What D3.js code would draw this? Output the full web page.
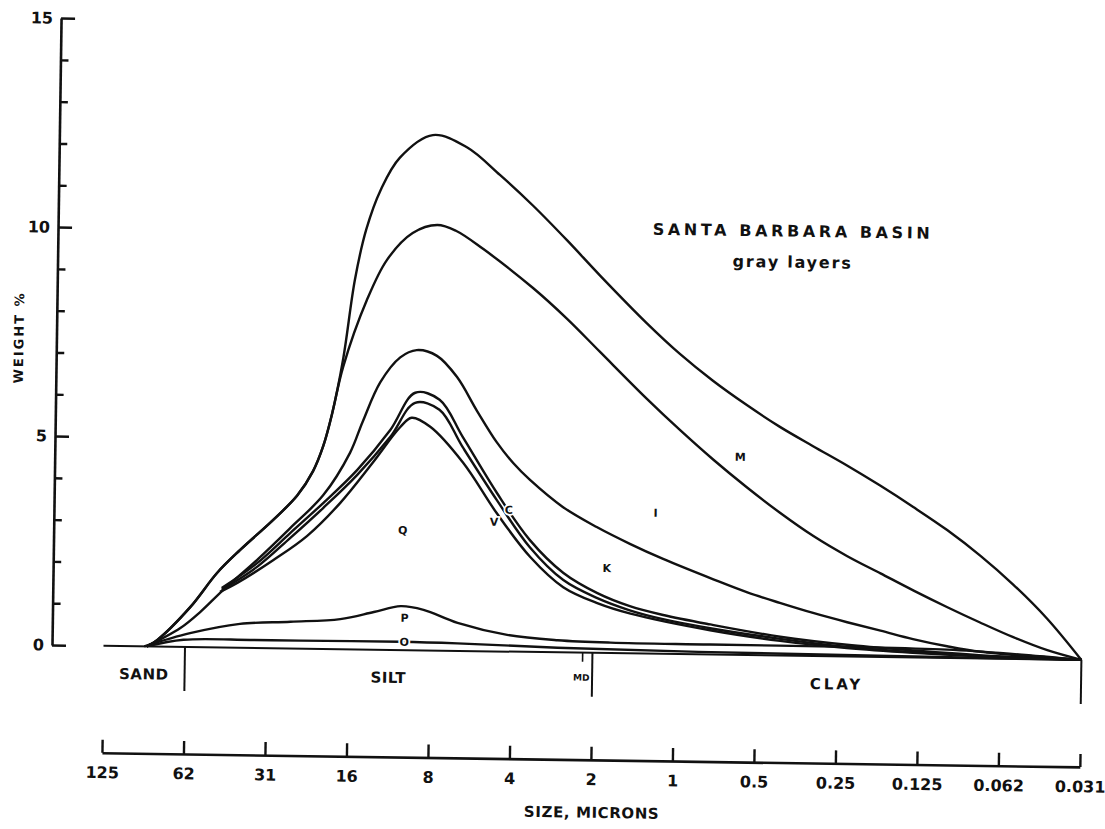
<!DOCTYPE html>
<html><head><meta charset="utf-8">
<script src="https://cdn.jsdelivr.net/npm/d3@7"></script>
<style>
body{margin:0;background:#fff;}
svg text{font-family:"DejaVu Sans",sans-serif;font-weight:bold;fill:#111;}
</style></head><body>
<svg id="chart" width="1105" height="829"></svg>
<script>
// ---- data (size in phi units: 3 = 125 µm ... 15 = 0.031 µm; weight in %) ----
const phiTicks = [3,4,5,6,7,8,9,10,11,12,13,14,15];
const sizeLabels = ["125","62","31","16","8","4","2","1","0.5","0.25","0.125","0.062","0.031"];
const weightTicks = [0,1,2,3,4,5,6,7,8,9,10,11,12,13,14,15];
const weightLabels = ["0","5","10","15"];

const curveM = [[3.53,0],[3.66,0.16],[4.06,0.96],[4.38,1.78],[4.66,2.34],[5.06,3.07],[5.35,3.66],[5.54,4.25],[5.66,4.85],[5.76,5.60],[5.89,6.95],[6.02,8.85],[6.15,10.05],[6.32,11.0],[6.55,11.78],[6.95,12.33],[7.37,12.05],[7.78,11.40],[8.19,10.68],[8.62,9.85],[9.03,9.02],[9.61,7.90],[10.02,7.18],[10.43,6.55],[10.85,5.98],[11.26,5.47],[11.67,5.02],[12.09,4.57],[12.50,4.10],[12.91,3.60],[13.33,3.06],[13.74,2.46],[14.15,1.78],[14.57,0.98],[15,0]];
const curveI = [[3.53,0],[3.66,0.16],[4.06,0.96],[4.38,1.78],[4.66,2.34],[5.06,3.07],[5.35,3.66],[5.54,4.25],[5.66,4.85],[5.76,5.60],[5.89,6.75],[6.17,8.36],[6.41,9.33],[6.72,9.98],[7.02,10.18],[7.25,10.05],[7.59,9.62],[8.21,8.70],[8.63,7.98],[9.04,7.20],[9.62,6.10],[10.04,5.35],[10.45,4.66],[10.86,4.02],[11.28,3.41],[11.69,2.87],[12.11,2.40],[12.52,2.00],[12.93,1.60],[13.34,1.22],[13.75,0.86],[14.16,0.52],[14.58,0.22],[15,0]];
const curveK = [[3.53,0],[3.94,0.45],[4.18,0.84],[4.46,1.38],[4.87,2.11],[5.27,2.88],[5.67,3.68],[5.99,4.70],[6.14,5.45],[6.35,6.40],[6.59,7.00],[6.79,7.18],[7.04,7.05],[7.29,6.55],[7.54,5.75],[7.79,5.00],[8.00,4.50],[8.20,4.12],[8.61,3.48],[9.03,3.01],[9.44,2.62],[9.85,2.27],[10.47,1.80],[10.89,1.50],[11.29,1.26],[11.70,1.03],[12.12,0.82],[12.53,0.63],[12.93,0.44],[13.35,0.28],[13.76,0.16],[14.58,0.05],[15,0]];
const curveC = [[4.44,1.42],[4.87,2.03],[5.27,2.76],[5.67,3.49],[6.08,4.29],[6.48,5.26],[6.78,6.16],[7.08,6.00],[7.37,5.12],[7.80,3.79],[8.21,2.68],[8.63,1.90],[9.05,1.43],[9.45,1.13],[9.86,0.93],[10.44,0.72],[11.30,0.45],[12.12,0.28],[12.93,0.17],[13.74,0.08],[15,0]];
const curveV = [[4.44,1.38],[4.87,1.94],[5.27,2.64],[5.67,3.37],[6.08,4.17],[6.48,5.09],[6.78,5.92],[7.08,5.76],[7.37,4.88],[7.80,3.62],[8.21,2.51],[8.63,1.73],[9.05,1.31],[9.45,1.03],[9.86,0.83],[10.44,0.63],[11.30,0.40],[12.12,0.23],[12.93,0.13],[13.74,0.06],[15,0]];
const curveQ = [[4.42,1.33],[4.63,1.55],[5.07,2.11],[5.48,2.70],[5.88,3.50],[6.27,4.47],[6.60,5.33],[6.74,5.56],[6.97,5.35],[7.38,4.50],[7.80,3.31],[8.22,2.27],[8.63,1.56],[9.05,1.19],[9.46,0.95],[10.44,0.58],[11.30,0.35],[12.12,0.20],[12.93,0.11],[13.74,0.05],[15,0]];
const curveP = [[3.50,0],[4.06,0.33],[4.67,0.57],[5.29,0.64],[5.90,0.72],[6.31,0.90],[6.64,1.05],[6.92,0.97],[7.34,0.67],[7.95,0.40],[8.57,0.29],[9.22,0.25],[10.44,0.24],[12.12,0.23],[13.35,0.20],[14.15,0.12],[15,0]];
const curveO = [[3.53,0],[3.98,0.17],[4.80,0.19],[5.41,0.19],[6.64,0.20],[7.34,0.18],[8.57,0.11],[10.3,0.06],[12.5,0.03],[15,0]];
const baseline = [[3,0],[15,0]];

const curveNames = ["M","I","K","C","V","Q","P","O"];
const labelPhi = [10.78, 9.75, 9.16, 7.95, 7.77, 6.65, 6.69, 6.69];
const labelWt  = [4.74, 3.37, 2.03, 3.39, 3.10, 2.87, 0.77, 0.20];

const zoneNames = ["SAND","SILT","CLAY"];
const zoneFrom = [3,4,9];
const zoneTo = [4,9,15];
const mdPhi = 8.88;

// ---- drawing ----
const svg = d3.select("#chart");
const g = svg.append("g").attr("transform","rotate(0.83,52,645)");

const x = d3.scaleLinear().domain([3,15]).range([103.5,1081.5]);
const y = d3.scaleLinear().domain([0,15]).range([645,18]);

const line = d3.line().x(d=>x(d[0])).y(d=>y(d[1])).curve(d3.curveCatmullRom.alpha(0.5));
const straight = d3.line().x(d=>x(d[0])).y(d=>y(d[1]));

// y axis
const yAxis = d3.axisLeft(y).tickValues(weightTicks).tickSizeInner(-14).tickSizeOuter(0).tickPadding(9)
  .tickFormat(d => weightLabels.includes(String(d)) ? String(d) : "");
const yg = g.append("g").attr("transform","translate(52,0)").call(yAxis);
yg.select(".domain").attr("stroke","#111").attr("stroke-width",2.6);
yg.selectAll(".tick line").attr("stroke","#111").attr("stroke-width",2.4)
  .attr("x2", d => d % 5 === 0 ? 14 : 8);
yg.selectAll(".tick text").attr("font-size",16).attr("fill","#111").attr("x",-8);

// x axis
const xAxis = d3.axisBottom(x).tickValues(phiTicks).tickSizeInner(-13).tickSizeOuter(0).tickPadding(14)
  .tickFormat((d,i)=>sizeLabels[i]);
const xg = g.append("g").attr("transform","translate(0,752)").call(xAxis);
xg.select(".domain").attr("stroke","#111").attr("stroke-width",2.6);
xg.selectAll(".tick line").attr("stroke","#111").attr("stroke-width",2.4);
xg.selectAll(".tick text").attr("font-size",16).attr("fill","#111");

g.append("text").attr("x",594).attr("y",810).attr("text-anchor","middle")
  .attr("font-size",15).attr("letter-spacing",0.6).text("SIZE, MICRONS");

g.append("text").attr("transform","translate(19,338) rotate(-90)").attr("text-anchor","middle")
  .attr("font-size",13).attr("letter-spacing",2).text("WEIGHT %");

// baseline and zone dividers
g.append("path").datum(baseline).attr("d",straight).attr("fill","none").attr("stroke","#111").attr("stroke-width",2);
g.selectAll(".divider").data(zoneTo).enter().append("line").attr("class","divider")
  .attr("x1",d=>x(d)).attr("x2",d=>x(d)).attr("y1",y(0)).attr("y2",y(0)+44)
  .attr("stroke","#111").attr("stroke-width",2);
g.append("line").attr("x1",x(mdPhi)).attr("x2",x(mdPhi)).attr("y1",y(0)).attr("y2",y(0)+9)
  .attr("stroke","#111").attr("stroke-width",1.6);
g.append("text").attr("x",x(mdPhi)-1).attr("y",y(0)+28).attr("text-anchor","middle")
  .attr("font-size",9).text("MD");
g.selectAll(".zone").data(zoneNames).enter().append("text").attr("class","zone")
  .attr("x",(d,i)=>x((zoneFrom[i]+zoneTo[i])/2)).attr("y",y(0)+33).attr("text-anchor","middle")
  .attr("font-size",15).attr("letter-spacing",(d,i)=> i===2 ? 3 : 0.5).text(d=>d);

// curves
const curves = [curveM,curveI,curveK,curveC,curveV,curveQ,curveP,curveO];
g.selectAll(".curve").data(curves).enter().append("path").attr("class","curve")
  .attr("d",line).attr("fill","none").attr("stroke","#111").attr("stroke-width",2.4)
  .attr("stroke-linejoin","round");

// curve labels
g.selectAll(".clab").data(curveNames).enter().append("text").attr("class","clab")
  .attr("x",(d,i)=>x(labelPhi[i])).attr("y",(d,i)=>y(labelWt[i])).attr("dy","0.36em")
  .attr("text-anchor","middle").attr("font-size",11)
  .attr("stroke","#fff").attr("stroke-width",3.5).attr("paint-order","stroke").text(d=>d);

// title
g.append("text").attr("x",787).attr("y",226).attr("text-anchor","middle")
  .attr("font-size",16).attr("letter-spacing",3.6).text("SANTA BARBARA BASIN");
g.append("text").attr("x",787).attr("y",257).attr("text-anchor","middle")
  .attr("font-size",16).attr("letter-spacing",1.8).text("gray layers");
</script>
</body></html>
